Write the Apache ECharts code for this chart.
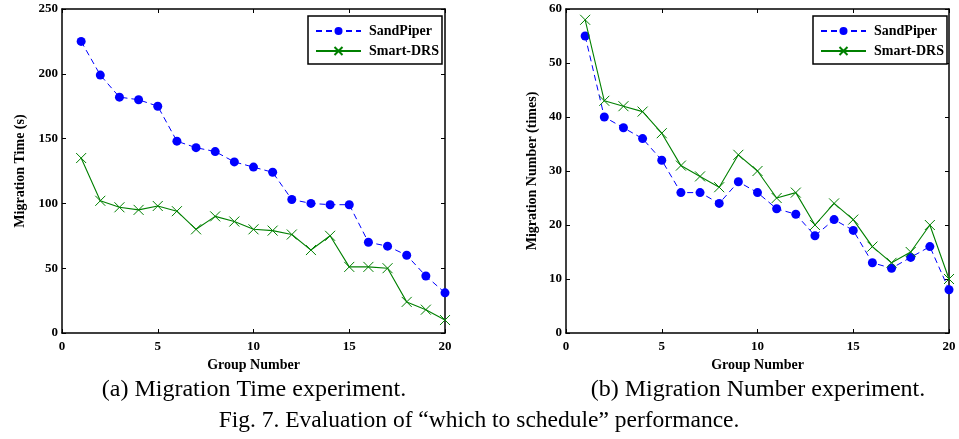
<!DOCTYPE html>
<html>
<head>
<meta charset="utf-8">
<script src="https://cdn.jsdelivr.net/npm/echarts@6/dist/echarts.min.js"></script>
<style>
  html, body { margin: 0; padding: 0; background: #fff; }
  #chart { width: 959px; height: 439px; }
</style>
</head>
<body>
<div id="chart"></div>
<script>
// Datos
const groups = [1, 2, 3, 4, 5, 6, 7, 8, 9, 10, 11, 12, 13, 14, 15, 16, 17, 18, 19, 20];
const seriesNames = ['SandPiper', 'Smart-DRS'];

// (a) tiempo de migración (s)
const timeSandPiper = [225, 199, 182, 180, 175, 148, 143, 140, 132, 128, 124, 103, 100, 99, 99, 70, 67, 60, 44, 31];
const timeSmartDRS = [135, 102, 97, 95, 98, 94, 80, 90, 86, 80, 79, 76, 64, 75, 51, 51, 50, 24, 18, 10];

// (b) número de migraciones
const numSandPiper = [55, 40, 38, 36, 32, 26, 26, 24, 28, 26, 23, 22, 18, 21, 19, 13, 12, 14, 16, 8];
const numSmartDRS = [58, 43, 42, 41, 37, 31, 29, 27, 33, 30, 25, 26, 20, 24, 21, 16, 13, 15, 20, 10];

const captionA = '(a) Migration Time experiment.';
const captionB = '(b) Migration Number experiment.';
const figCaption = 'Fig. 7. Evaluation of \u201cwhich to schedule\u201d performance.';

const SERIF = '"Liberation Serif", "DejaVu Serif", serif';
const BLUE = '#0000ff';
const GREEN = '#008000';
const CROSS = 'path://M0,0L10,10M10,0L0,10';

const chart = echarts.init(document.getElementById('chart'), null, { renderer: 'canvas' });

const pairs = v => groups.map((g, i) => [g, v[i]]);

const axisLine = { show: true, onZero: false, lineStyle: { color: '#000', width: 1.5 } };
const tickIn = { show: true, inside: true, length: 4, lineStyle: { color: '#000', width: 1 } };
const tickLabel = { color: '#000', fontFamily: SERIF, fontWeight: 'bold', fontSize: 13 };
const titleFont = { color: '#000', fontFamily: SERIF, fontWeight: 'bold', fontSize: 14 };

function xAxisFor(gridIndex, position) {
    const main = position === 'bottom';
    return {
        type: 'value', gridIndex, position, min: 0, max: 20, interval: 5,
        axisLine, axisTick: tickIn, splitLine: { show: false },
        axisLabel: main ? Object.assign({ margin: 7 }, tickLabel) : { show: false },
        name: main ? 'Group Number' : '',
        nameLocation: 'middle', nameGap: 21,
        nameTextStyle: titleFont
    };
}

function yAxisFor(gridIndex, position, max, interval, title, gap) {
    const main = position === 'left';
    return {
        type: 'value', gridIndex, position, min: 0, max, interval,
        axisLine, axisTick: tickIn, splitLine: { show: false },
        axisLabel: main ? Object.assign({ margin: 4 }, tickLabel) : { show: false },
        name: main ? title : '',
        nameLocation: 'middle', nameGap: gap || 30,
        nameTextStyle: titleFont
    };
}

function sandPiper(data, idx) {
    return {
        name: 'SandPiper', type: 'line', xAxisIndex: idx, yAxisIndex: idx,
        data: pairs(data),
        symbol: 'circle', symbolSize: 9,
        itemStyle: { color: BLUE },
        lineStyle: { color: BLUE, width: 1, type: [6, 4] },
        z: 2
    };
}

function smartDRS(data, idx) {
    return {
        name: 'Smart-DRS', type: 'line', xAxisIndex: idx, yAxisIndex: idx,
        data: pairs(data),
        symbol: CROSS, symbolSize: 10,
        itemStyle: { color: 'none', borderColor: GREEN, borderWidth: 1 },
        lineStyle: { color: GREEN, width: 1.1 },
        z: 3
    };
}

function legendAt(left) {
    return {
        data: seriesNames, orient: 'vertical', left, top: 16,
        itemWidth: 45, itemHeight: 10, itemGap: 6,
        padding: [8, 3, 6, 7],
        borderColor: '#000', borderWidth: 1.5, backgroundColor: '#fff',
        textStyle: { color: '#000', fontFamily: SERIF, fontWeight: 'bold', fontSize: 14, padding: [0, 0, 0, 3] }
    };
}

function caption(text, x, y, size) {
    return {
        type: 'text', x, y,
        style: { text, font: size + 'px ' + SERIF, fill: '#000', align: 'center', verticalAlign: 'middle' }
    };
}

const option = {
    animation: false,
    backgroundColor: '#fff',
    grid: [
        { left: 62, top: 9, width: 383, height: 324 },
        { left: 566, top: 9, width: 383, height: 324 }
    ],
    xAxis: [
        xAxisFor(0, 'bottom'), xAxisFor(1, 'bottom'),
        xAxisFor(0, 'top'), xAxisFor(1, 'top')
    ],
    yAxis: [
        yAxisFor(0, 'left', 250, 50, 'Migration Time (s)', 35),
        yAxisFor(1, 'left', 60, 10, 'Migration Number (times)', 27),
        yAxisFor(0, 'right', 250, 50, ''),
        yAxisFor(1, 'right', 60, 10, '')
    ],
    legend: [legendAt(308), legendAt(813)],
    series: [
        sandPiper(timeSandPiper, 0), smartDRS(timeSmartDRS, 0),
        sandPiper(numSandPiper, 1), smartDRS(numSmartDRS, 1)
    ],
    graphic: [
        caption(captionA, 254, 390, 24),
        caption(captionB, 758, 390, 24),
        caption(figCaption, 479, 421, 23.5)
    ]
};

chart.setOption(option);
</script>
</body>
</html>
